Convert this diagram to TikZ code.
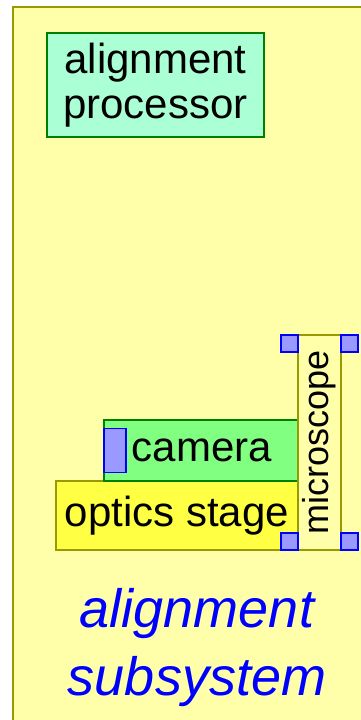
\documentclass[tikz,border=0pt]{standalone}
\usepackage{fontspec}
\setmainfont{Liberation Sans}
\usetikzlibrary{positioning}

\definecolor{paleyellow}{HTML}{FFFFAA}
\definecolor{olive}{HTML}{999900}
\definecolor{mint}{HTML}{AAFFD4}
\definecolor{darkgreen}{HTML}{008000}
\definecolor{litegreen}{HTML}{80FF80}
\definecolor{stageyellow}{HTML}{FFFF44}
\definecolor{handleblue}{HTML}{9999FF}

\tikzset{
  part/.style={draw, line width=1.5pt, inner sep=0pt, outer sep=0pt, anchor=north west,
    font=\fontsize{42}{46}\selectfont, align=center},
  handle/.style={draw=blue, fill=handleblue, line width=1.5pt, inner sep=0pt, outer sep=0pt,
    minimum width=17pt, minimum height=17pt},
}

\begin{document}
\begin{tikzpicture}[x=1pt,y=-1pt]
  \useasboundingbox (0,0) rectangle (360,720);
  % subsystem frame
  \node[part, draw=olive, fill=paleyellow, minimum width=400pt, minimum height=760pt] (frame) at (13,7) {};
  \node[part, draw=darkgreen, fill=mint, minimum width=217pt, minimum height=104pt] (proc) at (47,33) {alignment\\[-1pt]processor};
  % optics
  \node[part, draw=olive, fill=stageyellow, minimum width=242pt, minimum height=69pt] (stage) at (56,481) {\raisebox{-3pt}{optics stage}};
  \node[part, draw=darkgreen, fill=litegreen, minimum width=194pt, minimum height=61pt,
    anchor=south east] (camera) at (stage.north east) {\hspace*{2pt}camera};
  \node[part, draw=olive, fill=paleyellow, minimum width=43pt, minimum height=215pt,
    anchor=south west] (scope) at (stage.south east) {};
  \node[rotate=90, font=\fontsize{36}{40}\selectfont] (scopelabel) at (scope.center) {microscope};
  % handles
  \node[handle, minimum width=22pt, minimum height=44pt, anchor=west] (camhandle) at (camera.west) {};
  \node[handle, anchor=north east] (hnw) at (scope.north west) {};
  \node[handle, anchor=north west] (hne) at (scope.north east) {};
  \node[handle, anchor=south east] (hsw) at (scope.south west) {};
  \node[handle, anchor=south west] (hse) at (scope.south east) {};
  % title
  \node[text=blue, font=\fontsize{54}{68}\selectfont\itshape, align=center] (title) at (197,648) {alignment\\subsystem};
\end{tikzpicture}
\end{document}
